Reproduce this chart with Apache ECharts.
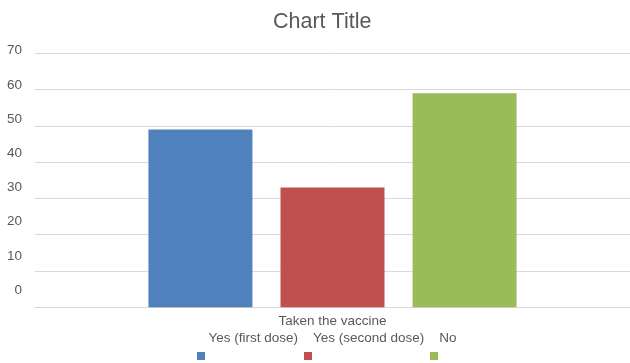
<!DOCTYPE html>
<html>
<head>
<meta charset="utf-8">
<script src="https://cdn.jsdelivr.net/npm/echarts@6/dist/echarts.min.js"></script>
<style>
html,body{margin:0;padding:0;background:#fff;}
#c{width:630px;height:363px;}
</style>
</head>
<body>
<div id="c"></div>
<script>
const categories = ['Taken the vaccine'];
const seriesNames = ['Yes (first dose)', 'Yes (second dose)', 'No'];
const firstDose = [49];
const secondDose = [33];
const noDose = [59];
const yMin = 0, yMax = 70, yStep = 10;

const FONT = '"Liberation Sans", Arial, sans-serif';
const colors = ['#4F81BD', '#C0504D', '#9BBB59'];
const values = [firstDose, secondDose, noDose];

const chart = echarts.init(document.getElementById('c'), null, {renderer: 'canvas'});
chart.setOption({
  animation: false,
  backgroundColor: '#fff',
  title: {
    text: 'Chart Title',
    left: 273, top: 11, padding: 0,
    textStyle: {fontFamily: FONT, fontSize: 21.5, fontWeight: 'normal', color: '#595959'}
  },
  legend: seriesNames.map((n, i) => ({
    data: [n],
    left: [197, 304, 430][i],
    top: 352,
    padding: 0,
    itemWidth: 8, itemHeight: 8,
    icon: 'rect',
    formatter: () => '',
    selectedMode: false,
    textStyle: {fontSize: 1}
  })),
  grid: [
    {left: 35, width: 597, top: 53.3, bottom: 55.7, containLabel: false},
    {left: 30, width: 1, top: 50.7, height: 239.3, containLabel: false}
  ],
  xAxis: [
    {
      type: 'category', gridIndex: 0, data: categories,
      axisTick: {show: false},
      axisLine: {lineStyle: {color: '#d9d9d9', width: 1}},
      axisLabel: {
        margin: 5, lineHeight: 17,
        fontFamily: FONT, fontSize: 13.5, color: '#595959',
        formatter: v => v + '\n' + seriesNames.join('    ')
      }
    },
    {type: 'category', gridIndex: 1, data: categories, show: false}
  ],
  yAxis: [
    {
      type: 'value', gridIndex: 0, min: yMin, max: yMax, interval: yStep,
      axisLabel: {show: false}, axisTick: {show: false}, axisLine: {show: false},
      splitLine: {lineStyle: {color: '#d9d9d9', width: 1}}
    },
    {
      type: 'value', gridIndex: 1, min: yMin, max: yMax, interval: yStep,
      axisTick: {show: false}, axisLine: {show: false}, splitLine: {show: false},
      axisLabel: {margin: 8, fontFamily: FONT, fontSize: 13.5, color: '#595959'}
    }
  ],
  series: seriesNames.map((n, i) => ({
    name: n, type: 'bar', xAxisIndex: 0, yAxisIndex: 0,
    data: values[i],
    barWidth: 104, barGap: '27%',
    itemStyle: {color: colors[i]}
  }))
});
</script>
</body>
</html>
